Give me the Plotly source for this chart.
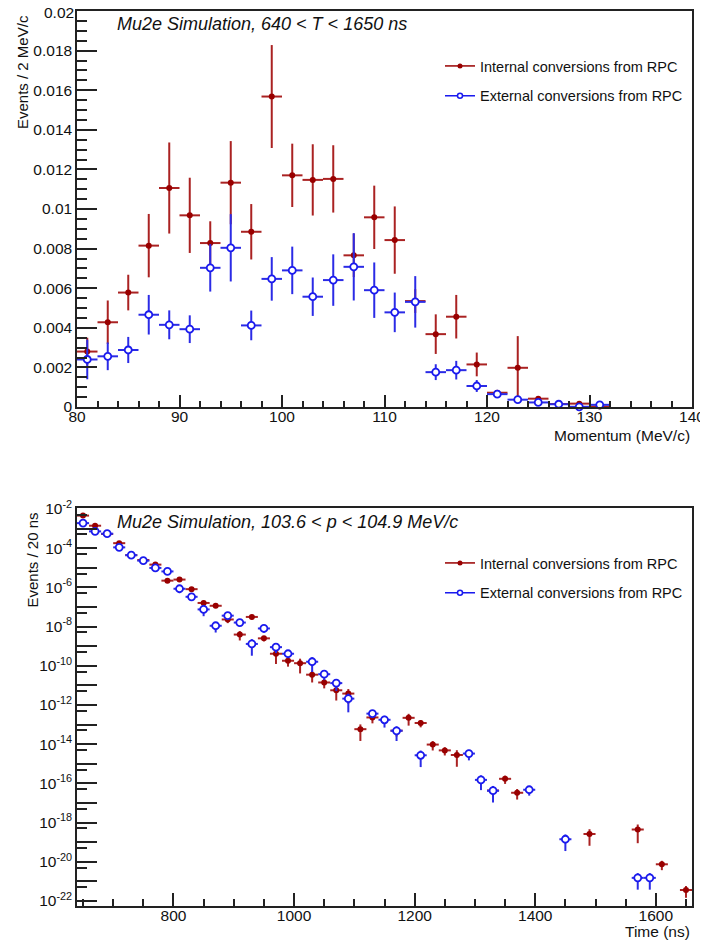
import plotly.graph_objects as go

# ---------------- data: momentum spectrum (top) ----------------
mom_centers = [81, 83, 85, 87, 89, 91, 93, 95, 97, 99, 101, 103, 105, 107, 109,
               111, 113, 115, 117, 119, 121, 123, 125, 127, 129, 131]
int_mom = [0.00280, 0.00428, 0.00578, 0.00815, 0.01106, 0.00968, 0.00828, 0.01133,
           0.00885, 0.01568, 0.01170, 0.01147, 0.01152, 0.00766, 0.00958, 0.00843,
           0.00535, 0.00368, 0.00456, 0.00215, 0.00072, 0.00198, 0.00042, 0.00015,
           0.00017, 0.00002]
int_mom_err = [0.0007, 0.0011, 0.0009, 0.0016, 0.0023, 0.0019, 0.0011, 0.0021,
               0.0014, 0.0026, 0.0016, 0.0018, 0.0017, 0.0011, 0.0016, 0.0017,
               0.0006, 0.0010, 0.0011, 0.0006, 0.0001, 0.0016, 0.0001, 0.00005,
               0.0001, 0.00001]
ext_mom = [0.00240, 0.00256, 0.00288, 0.00466, 0.00415, 0.00393, 0.00703, 0.00804,
           0.00412, 0.00647, 0.00690, 0.00557, 0.00641, 0.00708, 0.00590, 0.00478,
           0.00531, 0.00176, 0.00186, 0.00106, 0.00065, 0.00037, 0.00023, 0.00014,
           0.00001, 0.00011]
ext_mom_err = [0.0010, 0.0007, 0.00066, 0.0010, 0.00073, 0.0007, 0.0012, 0.0017,
               0.00075, 0.0011, 0.0012, 0.00097, 0.0013, 0.0017, 0.0014, 0.0010,
               0.0013, 0.0004, 0.00047, 0.0003, 0.0001, 0.00005, 0.00005, 0.00003,
               0.0, 0.00002]

# ---------------- data: time spectrum (bottom) ----------------
time_int = [650, 670, 690, 710, 730, 750, 770, 790, 810, 830, 850, 870, 890, 910,
            930, 950, 970, 990, 1010, 1030, 1050, 1070, 1090, 1110, 1130, 1170,
            1190, 1210, 1230, 1250, 1270, 1330, 1350, 1370, 1490, 1570, 1610, 1650]
int_time = [4.6e-3, 1.4e-3, 5.3e-4, 1.8e-4, 4.4e-5, 2.5e-5, 1.45e-5, 2.2e-6, 2.5e-6,
            8.1e-7, 1.6e-7, 1.15e-7, 2.3e-8, 3.9e-9, 3.1e-8, 2.5e-9, 4.1e-10,
            1.8e-10, 1.35e-10, 3.5e-11, 1.4e-11, 5.6e-12, 3.8e-12, 5.8e-14, 2.3e-13,
            4.9e-14, 2.2e-13, 1.2e-13, 9.5e-15, 4.8e-15, 2.8e-15, 4.3e-17, 1.7e-16,
            3.3e-17, 2.6e-19, 4.4e-19, 7.4e-21, 3.6e-22]
int_time_relerr = [0.1, 0.1, 0.1, 0.1, 0.15, 0.15, 0.15, 0.2, 0.2, 0.2, 0.3, 0.2,
                   0.35, 0.5, 0.25, 0.3, 0.7, 0.5, 0.7, 0.6, 0.5, 0.7, 0.7, 0.75,
                   0.5, 0.5, 0.6, 0.4, 0.5, 0.45, 0.75, 0.5, 0.45, 0.55, 0.75, 0.8,
                   0.5, 0.6]
time_ext = [650, 670, 690, 710, 730, 750, 770, 790, 810, 830, 850, 870, 890, 910,
            930, 950, 970, 990, 1030, 1050, 1070, 1090, 1130, 1150, 1170, 1210,
            1290, 1310, 1330, 1390, 1450, 1570, 1590]
ext_time = [1.9e-3, 7.2e-4, 5.5e-4, 1.1e-4, 4.4e-5, 2.3e-5, 9.8e-6, 6.5e-6, 8.5e-7,
            3.3e-7, 7.5e-8, 1.1e-8, 3.6e-8, 1.6e-8, 1.3e-9, 8.0e-9, 8.9e-10,
            4.1e-10, 1.6e-10, 3.7e-11, 1.3e-11, 2.1e-12, 3.6e-13, 1.75e-13, 4.8e-14,
            2.7e-15, 3.3e-15, 1.5e-16, 4.2e-17, 4.7e-17, 1.4e-19, 1.5e-21, 1.5e-21]
ext_time_relerr = [0.1, 0.1, 0.1, 0.1, 0.15, 0.3, 0.3, 0.2, 0.4, 0.25, 0.55, 0.55,
                   0.3, 0.3, 0.75, 0.4, 0.5, 0.4, 0.7, 0.5, 0.6, 0.8, 0.4, 0.6,
                   0.7, 0.75, 0.55, 0.7, 0.75, 0.5, 0.75, 0.75, 0.75]

# ---------------- tick labels ----------------
top_y_ticks = [0, 0.002, 0.004, 0.006, 0.008, 0.01, 0.012, 0.014, 0.016, 0.018, 0.02]
top_y_labels = ["0", "0.002", "0.004", "0.006", "0.008", "0.01", "0.012", "0.014",
                "0.016", "0.018", "0.02"]
top_x_ticks = [80, 90, 100, 110, 120, 130, 140]
bot_x_ticks = [800, 1000, 1200, 1400, 1600]
bot_exponents = [-22, -21, -20, -19, -18, -17, -16, -15, -14, -13, -12, -11, -10,
                 -9, -8, -7, -6, -5, -4, -3, -2]
bot_labeled_exponents = [-22, -20, -18, -16, -14, -12, -10, -8, -6, -4, -2]

series_names = ["Internal conversions from RPC", "External conversions from RPC"]
title_top = "<i>Mu2e Simulation, 640 &lt; T &lt; 1650 ns</i>"
title_bot = "<i>Mu2e Simulation, 103.6 &lt; p &lt; 104.9 MeV/c</i>"

# ---------------- styling ----------------
RED = "#990000"
RED_BAR = "#aa2222"
BLUE = "#1a1aee"
BLUE_BAR = "#2b2be6"
FONT = "Liberation Sans, Arial, Helvetica, sans-serif"
OFF = 8  # page body margin
W, H = 708 - OFF, 945 - OFF
ML, MR, MT, MB = 77 - OFF, 16, 11 - OFF, 39
PW, PH = W - ML - MR, H - MT - MB


def px(x):
    return (x - OFF - ML) / PW


def py(y):
    return (H - MB - (y - OFF)) / PH


fig = go.Figure()

# top: internal
fig.add_trace(go.Scatter(
    x=mom_centers, y=int_mom, mode="markers", xaxis="x", yaxis="y",
    marker=dict(color=RED, size=6, symbol="circle"),
    error_y=dict(type="data", array=int_mom_err, color=RED_BAR, thickness=2, width=0),
    error_x=dict(type="constant", value=1, color=RED_BAR, thickness=2, width=0),
    showlegend=False, cliponaxis=False))
# top: external
fig.add_trace(go.Scatter(
    x=mom_centers, y=ext_mom, mode="markers", xaxis="x", yaxis="y",
    marker=dict(color="white", size=7, symbol="circle", line=dict(color=BLUE, width=1.8)),
    error_y=dict(type="data", array=ext_mom_err, color=BLUE_BAR, thickness=2, width=0),
    error_x=dict(type="constant", value=1, color=BLUE_BAR, thickness=2, width=0),
    showlegend=False, cliponaxis=False))

# bottom: internal
fig.add_trace(go.Scatter(
    x=time_int, y=int_time, mode="markers", xaxis="x2", yaxis="y2",
    marker=dict(color=RED, size=6, symbol="circle"),
    error_y=dict(type="data", array=[v * r for v, r in zip(int_time, int_time_relerr)],
                 color=RED_BAR, thickness=2, width=0),
    error_x=dict(type="constant", value=10, color=RED_BAR, thickness=2, width=0),
    showlegend=False, cliponaxis=False))
# bottom: external
fig.add_trace(go.Scatter(
    x=time_ext, y=ext_time, mode="markers", xaxis="x2", yaxis="y2",
    marker=dict(color="white", size=7, symbol="circle", line=dict(color=BLUE, width=1.8)),
    error_y=dict(type="data", array=[v * r for v, r in zip(ext_time, ext_time_relerr)],
                 color=BLUE_BAR, thickness=2, width=0),
    error_x=dict(type="constant", value=10, color=BLUE_BAR, thickness=2, width=0),
    showlegend=False, cliponaxis=False))

# legend entries
for leg, xa, ya in [("legend", "x", "y"), ("legend2", "x2", "y2")]:
    fig.add_trace(go.Scatter(
        x=[None], y=[None], mode="lines+markers", name=series_names[0],
        xaxis=xa, yaxis=ya, legend=leg, legendgroup=leg + "a",
        line=dict(color=RED, width=1.5), marker=dict(color=RED, size=5)))
    fig.add_trace(go.Scatter(
        x=[None], y=[None], mode="lines+markers", name=series_names[1],
        xaxis=xa, yaxis=ya, legend=leg, legendgroup=leg + "b",
        line=dict(color=BLUE, width=1.5),
        marker=dict(color="white", size=5, line=dict(color=BLUE, width=1.5))))

axis_common = dict(showline=True, linecolor="#222222", linewidth=1.5, mirror=True,
                   ticks="inside", tickcolor="#222222", tickwidth=1.5,
                   showgrid=False, zeroline=False, automargin=False,
                   ticklabeloverflow="allow",
                   tickfont=dict(family=FONT, size=15.5, color="#111111"))

# the topmost label of the upper y axis sits at the page edge; it is drawn
# as an annotation slightly lower (as in the reference) so it is not clipped
top_y_ticktext = top_y_labels[:-1] + [""]

fig.update_layout(
    width=W, height=H,
    margin=dict(l=ML, r=MR, t=MT, b=MB, autoexpand=False),
    paper_bgcolor="white", plot_bgcolor="white",
    font=dict(family=FONT, color="#111111"),
    xaxis=dict(axis_common, domain=[0, 1], anchor="y", range=[80, 140],
               tickmode="array", tickvals=top_x_ticks, ticklen=12,
               ticklabelstandoff=-5,
               minor=dict(ticks="inside", dtick=2, ticklen=6, tickcolor="#222222",
                          tickwidth=1.5)),
    yaxis=dict(axis_common, domain=[py(407), 1], anchor="x", range=[0, 0.02],
               tickmode="array", tickvals=top_y_ticks, ticktext=top_y_ticktext,
               ticklen=20,
               minor=dict(ticks="inside", dtick=0.0005, ticklen=10, tickcolor="#222222",
                          tickwidth=1.5)),
    xaxis2=dict(axis_common, domain=[0, 1], anchor="y2", range=[640, 1660],
                tickmode="array", tickvals=bot_x_ticks, ticklen=13,
                ticklabelstandoff=-5,
                minor=dict(ticks="inside", dtick=50, tick0=0, ticklen=7,
                           tickcolor="#222222", tickwidth=1.5)),
    yaxis2=dict(axis_common, domain=[0, py(508)], anchor="x2", type="log",
                range=[-22.26, -1.95], tickmode="array",
                tickvals=[10.0 ** e for e in bot_exponents],
                ticktext=[("10<sup>%d</sup>" % e) if e in bot_labeled_exponents else ""
                          for e in bot_exponents],
                ticklen=20,
                minor=dict(ticks="inside", tickmode="array",
                           tickvals=[5 * 10.0 ** (e - 1) for e in bot_exponents],
                           ticklen=10, tickcolor="#222222", tickwidth=1.5)),
    legend=dict(x=px(440), y=py(50), xanchor="left", yanchor="top",
                bgcolor="rgba(0,0,0,0)", tracegroupgap=8,
                font=dict(family=FONT, size=14.5, color="#111111")),
    legend2=dict(x=px(440), y=py(547), xanchor="left", yanchor="top",
                 bgcolor="rgba(0,0,0,0)", tracegroupgap=8,
                 font=dict(family=FONT, size=14.5, color="#111111")),
)

annots = [
    dict(text=title_top, x=px(115), y=py(24), xanchor="left", yanchor="middle",
         font=dict(size=18)),
    dict(text=title_bot, x=px(115), y=py(522), xanchor="left", yanchor="middle",
         font=dict(size=18)),
    dict(text="Events / 2 MeV/c", x=px(22.5), y=py(72.5), xanchor="center",
         yanchor="middle", textangle=-90, font=dict(size=15)),
    dict(text="Events / 20 ns", x=px(31.5), y=py(560), xanchor="center",
         yanchor="middle", textangle=-90, font=dict(size=15)),
    dict(text="Momentum (MeV/c)", x=px(692), y=py(435), xanchor="right",
         yanchor="middle", font=dict(size=15.5)),
    dict(text="Time (ns)", x=px(692), y=py(931), xanchor="right",
         yanchor="middle", font=dict(size=15.5)),
    dict(text=top_y_labels[-1], x=px(74.5), y=py(13), xanchor="right",
         yanchor="middle", font=dict(size=15.5), borderpad=0),
]
for a in annots:
    a.update(xref="paper", yref="paper", showarrow=False)
    a["font"].update(family=FONT, color="#111111")
fig.update_layout(annotations=annots)

fig.write_html("out.html")
